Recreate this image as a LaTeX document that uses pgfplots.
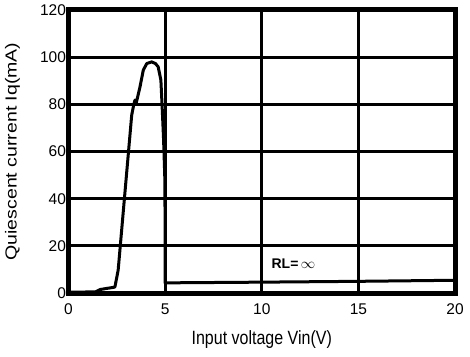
\documentclass[border=0pt]{standalone}
\usepackage{pgfplots}
\pgfplotsset{compat=1.18}
\usepackage{fontspec}
\setmainfont{Liberation Sans}
\begin{document}
\begin{tikzpicture}
\useasboundingbox (0,0) rectangle (470pt,356pt);
\begin{axis}[
  name=ax,
  at={(68.5pt,63pt)}, anchor=south west,
  scale only axis, width=386.5pt, height=283pt,
  xmin=0, xmax=20, ymin=0, ymax=120,
  xtick={0,5,10,15,20}, ytick={0,20,40,60,80,100,120},
  /pgf/number format/assume math mode=true,
  tick label style={font=\fontsize{15.5}{17}\selectfont},
  major tick length=0pt,
  xticklabel style={yshift=-7pt},
  yticklabel style={xshift=1pt},
  xmajorgrids, ymajorgrids,
  major grid style={black, line width=2.8pt},
  axis line style={black, line width=5pt},
  xlabel={\scalebox{1}[1.2]{Input voltage Vin(V)}},
  ylabel={\scalebox{1.22}[1]{Quiescent current Iq(mA)}},
  label style={font=\fontsize{16}{18}\selectfont},
  xlabel style={at={(axis description cs:0.5,0)}, anchor=center, yshift=-47pt},
  ylabel style={at={(axis description cs:0,0.5)}, anchor=center, yshift=56pt},
  clip=false,
]
\addplot[black, line width=3pt, line join=round] coordinates {
(0,0.3) (1.4,0.5) (1.65,1.5) (2.4,2.5) (2.57,9.7) (3.27,75.4) (3.38,80) (3.44,81.8) (3.5,80.5) (3.56,82.5) (3.70,87.4) (3.87,94.5) (4.05,97.3) (4.30,98.0) (4.5,97.3) (4.64,95.9) (4.78,90.3) (4.84,80) (4.92,65) (4.98,50) (5.0,30) (5.0,4.3) (10,4.6) (15,4.95) (20,5.4)
};
\node[anchor=west, inner sep=0pt] at (axis cs:10.5,12.3) {\fontsize{14}{16}\selectfont\textbf{RL=}\,$\infty$};
\end{axis}
\draw[black, line width=5pt] (ax.south west) rectangle (ax.north east);
\end{tikzpicture}
\end{document}
